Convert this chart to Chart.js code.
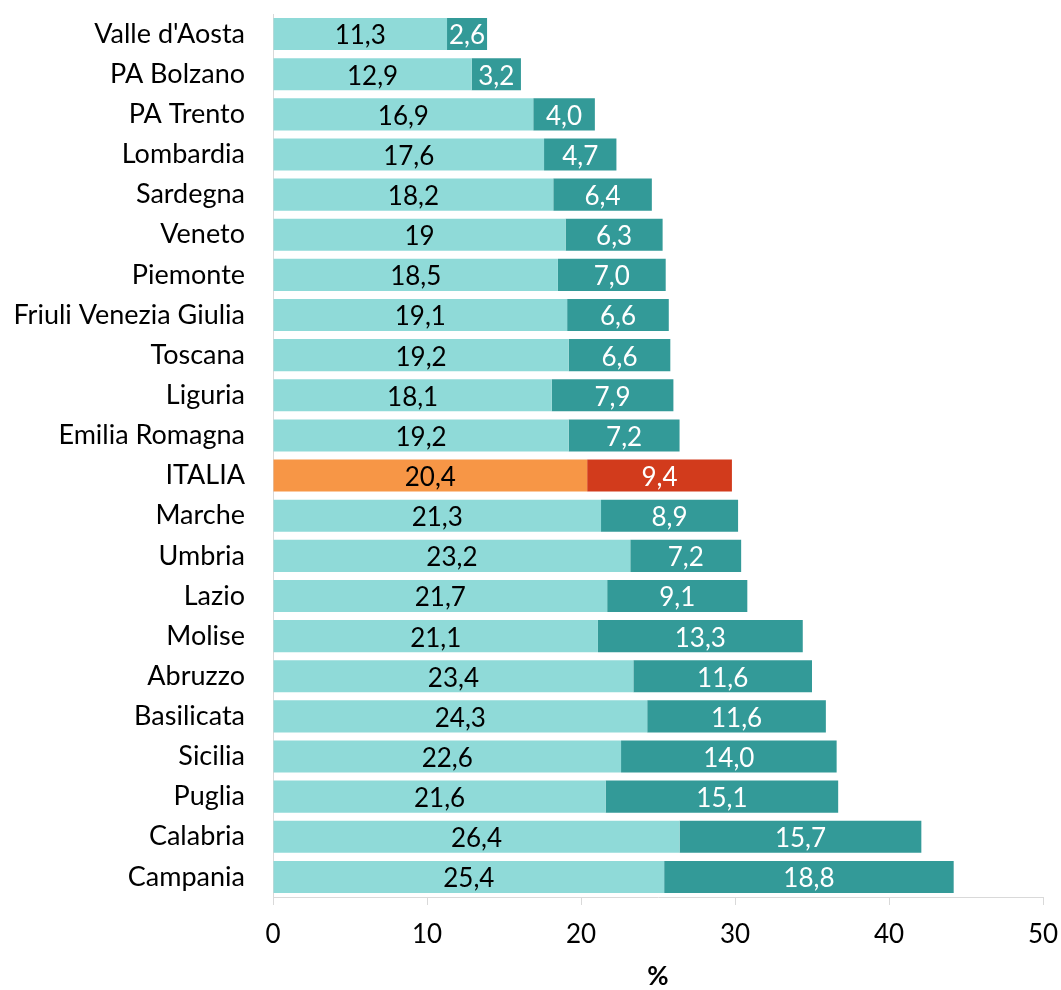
<!DOCTYPE html>
<html>
<head>
<meta charset="utf-8">
<script src="https://cdn.jsdelivr.net/npm/chart.js@4"></script>
<style>
  html, body { margin: 0; padding: 0; background: #fff; }
  .chart-container { width: 1061px; height: 990px; }
</style>
</head>
<body>
<div class="chart-container"><canvas id="chart"></canvas></div>
<script>
const regions = ["Valle d'Aosta", 'PA Bolzano', 'PA Trento', 'Lombardia', 'Sardegna', 'Veneto',
  'Piemonte', 'Friuli Venezia Giulia', 'Toscana', 'Liguria', 'Emilia Romagna', 'ITALIA',
  'Marche', 'Umbria', 'Lazio', 'Molise', 'Abruzzo', 'Basilicata', 'Sicilia', 'Puglia',
  'Calabria', 'Campania'];
const firstValues = [11.3, 12.9, 16.9, 17.6, 18.2, 19, 18.5, 19.1, 19.2, 18.1, 19.2, 20.4,
  21.3, 23.2, 21.7, 21.1, 23.4, 24.3, 22.6, 21.6, 26.4, 25.4];
const secondValues = [2.6, 3.2, 4.0, 4.7, 6.4, 6.3, 7.0, 6.6, 6.6, 7.9, 7.2, 9.4,
  8.9, 7.2, 9.1, 13.3, 11.6, 11.6, 14.0, 15.1, 15.7, 18.8];
const xTicks = [0, 10, 20, 30, 40, 50];

const FONT = 'Lato, "Open Sans", sans-serif';
const lightColors = regions.map(r => r === 'ITALIA' ? '#F79646' : '#8FDAD8');
const darkColors = regions.map(r => r === 'ITALIA' ? '#D23B1C' : '#339A98');

// value labels in the middle of each segment
const valueLabels = {
  id: 'valueLabels',
  afterDatasetsDraw(chart) {
    const ctx = chart.ctx;
    ctx.save();
    ctx.font = '26px ' + FONT;
    ctx.textAlign = 'center';
    ctx.textBaseline = 'middle';
    chart.data.datasets.forEach((ds, di) => {
      chart.getDatasetMeta(di).data.forEach((bar, i) => {
        const v = ds.data[i];
        const txt = (di === 0 ? String(v) : v.toFixed(1)).replace('.', ',');
        const cx = (bar.x + bar.base) / 2;
        ctx.fillStyle = di === 0 ? '#000' : '#fff';
        ctx.fillText(txt, cx, bar.y + 2);
      });
    });
    ctx.restore();
  }
};

new Chart(document.getElementById('chart').getContext('2d'), {
  type: 'bar',
  data: {
    labels: regions,
    datasets: [
      { label: 'a', data: firstValues, backgroundColor: lightColors, barPercentage: 0.8, categoryPercentage: 1 },
      { label: 'b', data: secondValues, backgroundColor: darkColors, barPercentage: 0.8, categoryPercentage: 1 }
    ]
  },
  options: {
    indexAxis: 'y',
    responsive: true,
    maintainAspectRatio: false,
    animation: false,
    layout: { padding: { left: 0, right: 18, top: 14, bottom: 0 } },
    plugins: { legend: { display: false }, tooltip: { enabled: false } },
    scales: {
      y: {
        stacked: true,
        afterFit: s => { s.width = 273; s.paddingTop = 0; s.paddingBottom = 0; },
        grid: { display: false, drawTicks: false },
        border: { display: true, color: '#D9D9D9', width: 1 },
        ticks: { color: '#000', padding: 28, font: { family: FONT, size: 27 } }
      },
      x: {
        stacked: true,
        min: 0, max: 50,
        afterBuildTicks: s => { s.ticks = xTicks.map(v => ({ value: v })); },
        afterFit: s => { s.height = 93; s.paddingLeft = 0; s.paddingRight = 0; },
        grid: { drawOnChartArea: false, drawTicks: true, tickLength: 8, color: '#D9D9D9' },
        border: { display: true, color: '#D9D9D9', width: 1 },
        ticks: { color: '#000', padding: 14, font: { family: FONT, size: 26 } },
        title: { display: true, text: '%', color: '#000', padding: { top: 0, bottom: 0 },
          font: { family: FONT, size: 26, weight: 'bold', lineHeight: 1 } }
      }
    }
  },
  plugins: [valueLabels]
});
</script>
</body>
</html>
